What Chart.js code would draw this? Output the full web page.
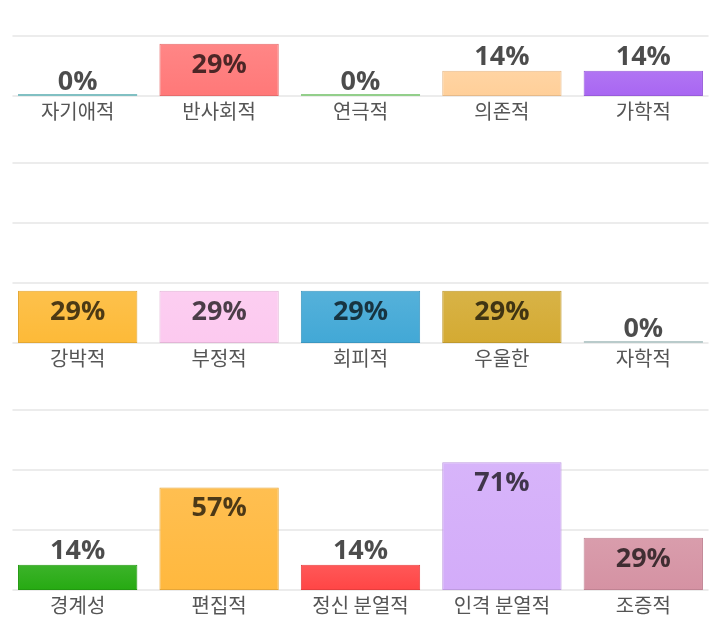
<!DOCTYPE html>
<html>
<head>
<meta charset="utf-8">
<script src="https://cdn.jsdelivr.net/npm/chart.js@4.4.1/dist/chart.umd.min.js"></script>
<style>
    html, body { margin: 0; padding: 0; background: #fff; }
    body { width: 720px; height: 639px; overflow: hidden; position: relative; }
    .row { position: absolute; left: 0; width: 720px; height: 247px; }
</style>
</head>
<body>
<div class="row" style="top:-104px"><canvas id="chart1"></canvas></div>
<div class="row" style="top:143px"><canvas id="chart2"></canvas></div>
<div class="row" style="top:390px"><canvas id="chart3"></canvas></div>
<script>
// data, one row of bars per chart
var categories1 = ['자기애적', '반사회적', '연극적', '의존적', '가학적'];
var values1 = [0, 29, 0, 14, 14];
var colors1 = ['#8fd5d9', '#ff7878', '#a3e69a', '#ffcf99', '#a866f2'];

var categories2 = ['강박적', '부정적', '회피적', '우울한', '자학적'];
var values2 = [29, 29, 29, 29, 0];
var colors2 = ['#fdba38', '#fcc9ef', '#42a8d6', '#d4aa32', '#cde2e2'];

var categories3 = ['경계성', '편집적', '정신 분열적', '인격 분열적', '조증적'];
var values3 = [14, 57, 14, 71, 29];
var colors3 = ['#26aa12', '#ffb83e', '#ff4545', '#d3acf9', '#d592a3'];

var yMax = 100;
var gridCount = 4; // 0, 1/3, 2/3, max

function shade(hex, amt) {
    var n = parseInt(hex.slice(1), 16);
    var c = [(n >> 16) & 255, (n >> 8) & 255, n & 255];
    c = c.map(function (v) {
        return Math.round(amt >= 0 ? v + (255 - v) * amt : v * (1 + amt));
    });
    return 'rgb(' + c.join(',') + ')';
}

// grid lines, a bit shorter than the chart area
var gridPlugin = {
    id: 'shortGrid',
    beforeDatasetsDraw: function (chart) {
        var ctx = chart.ctx, area = chart.chartArea, y = chart.scales.y;
        ctx.save();
        ctx.strokeStyle = '#ececec';
        ctx.lineWidth = 2;
        y.ticks.forEach(function (t) {
            var py = Math.round(y.getPixelForValue(t.value));
            ctx.beginPath();
            ctx.moveTo(area.left + 5.5, py);
            ctx.lineTo(area.right - 5.5, py);
            ctx.stroke();
        });
        ctx.restore();
    }
};

// percent labels, inside the top of tall bars, above short ones
var valuePlugin = {
    id: 'valueLabels',
    afterDatasetsDraw: function (chart) {
        var ctx = chart.ctx, y = chart.scales.y;
        var meta = chart.getDatasetMeta(0);
        ctx.save();
        ctx.font = 'bold 27px "Open Sans"';
        ctx.fillStyle = 'rgba(0,0,0,0.7)';
        ctx.textAlign = 'center';
        ctx.textBaseline = 'alphabetic';
        chart.data.datasets[0].data.forEach(function (v, i) {
            var top = y.getPixelForValue(v);
            var base = v >= 20 ? top + 29 : top - 6;
            ctx.fillText(v + '%', meta.data[i].x, base);
        });
        ctx.restore();
    }
};

function makeChart(id, labels, values, colors) {
    var ctx = document.getElementById(id).getContext('2d');
    return new Chart(ctx, {
        type: 'bar',
        data: {
            labels: labels,
            datasets: [{
                data: values,
                backgroundColor: function (c) {
                    var chart = c.chart, base = colors[c.dataIndex];
                    if (!chart.chartArea || c.raw === undefined) return base;
                    var top = chart.scales.y.getPixelForValue(c.raw);
                    var bottom = chart.scales.y.getPixelForValue(0);
                    if (bottom - top < 3) return base;
                    var g = chart.ctx.createLinearGradient(0, top, 0, bottom);
                    g.addColorStop(0, shade(base, 0.1));
                    g.addColorStop(1, base);
                    return g;
                },
                borderColor: colors.map(function (c) { return shade(c, -0.1); }),
                borderWidth: 1,
                borderSkipped: false,
                minBarLength: 2,
                barPercentage: 1,
                categoryPercentage: 0.844
            }]
        },
        options: {
            responsive: true,
            maintainAspectRatio: false,
            animation: false,
            layout: { padding: { left: 7, right: 6, top: 20, bottom: 17 } },
            plugins: {
                legend: { display: false },
                tooltip: { enabled: false }
            },
            scales: {
                x: {
                    grid: { display: false, drawTicks: false },
                    border: { display: false },
                    ticks: {
                        color: '#555555',
                        padding: 3,
                        font: { family: '"Noto Sans CJK KR"', size: 20 }
                    }
                },
                y: {
                    display: false,
                    min: 0,
                    max: yMax,
                    ticks: { count: gridCount }
                }
            }
        },
        plugins: [gridPlugin, valuePlugin]
    });
}

makeChart('chart1', categories1, values1, colors1);
makeChart('chart2', categories2, values2, colors2);
makeChart('chart3', categories3, values3, colors3);
</script>
</body>
</html>
